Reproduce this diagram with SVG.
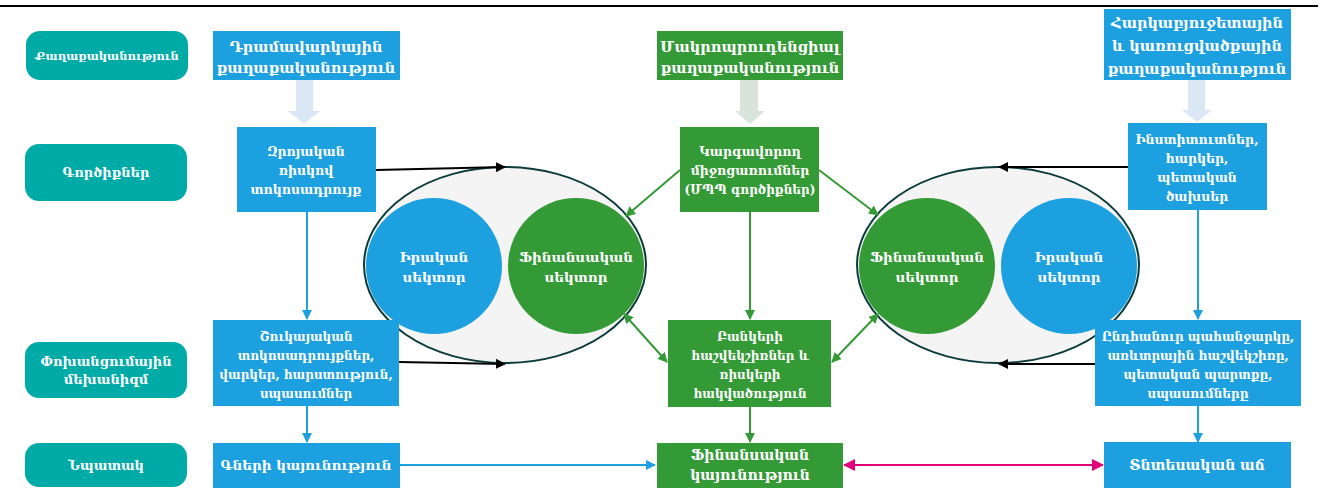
<svg xmlns="http://www.w3.org/2000/svg" width="1320" height="495" viewBox="0 0 1320 495">
<style>
.t{font-family:"DejaVu Serif","Noto Sans",serif;font-weight:bold;fill:#fff;text-anchor:middle}
.lab{fill:#00aaa6}
.blue{fill:#1da0e0}
.green{fill:#349a36}
.c{stroke-width:2;fill:none}
</style>
<defs>
<marker id="ak" markerWidth="10" markerHeight="10" refX="9" refY="5" orient="auto-start-reverse" markerUnits="userSpaceOnUse"><path d="M0,0 L10,5 L0,10 Z" fill="#000"/></marker>
<marker id="ab" markerWidth="10" markerHeight="10" refX="9" refY="5" orient="auto-start-reverse" markerUnits="userSpaceOnUse"><path d="M0,0 L10,5 L0,10 Z" fill="#1da0e0"/></marker>
<marker id="ag" markerWidth="10" markerHeight="10" refX="9" refY="5" orient="auto-start-reverse" markerUnits="userSpaceOnUse"><path d="M0,0 L10,5 L0,10 Z" fill="#349a36"/></marker>
<marker id="ap" markerWidth="12" markerHeight="12" refX="11" refY="6" orient="auto-start-reverse" markerUnits="userSpaceOnUse"><path d="M0,0 L12,6 L0,12 Z" fill="#e0007a"/></marker>
</defs>
<rect width="1320" height="495" fill="#fff"/>
<line x1="0" y1="6" x2="1318" y2="6" stroke="#000" stroke-width="2"/>

<!-- row labels -->
<g id="lab1"><rect class="lab" x="26" y="31" width="162" height="49" rx="14"/><text class="t" x="107" y="60" font-size="11.5">Քաղաքականություն</text></g>
<g id="lab2"><rect class="lab" x="25" y="144" width="162" height="57" rx="14"/><text class="t" x="106" y="177" font-size="13">Գործիքներ</text></g>
<g id="lab3"><rect class="lab" x="25" y="342" width="162" height="56" rx="14"/><text class="t" x="106" y="366" font-size="13">Փոխանցումային</text><text class="t" x="106" y="384" font-size="13">մեխանիզմ</text></g>
<g id="lab4"><rect class="lab" x="25" y="443" width="162" height="44" rx="14"/><text class="t" x="106" y="470" font-size="13">Նպատակ</text></g>

<!-- big arrows -->
<g id="bigarrows">
<path d="M296,80 H313 V111 H320 L304,124 L288,111 H296 Z" fill="#dbe7f5"/>
<path d="M740,80 H758 V111 H765 L750,124 L735,111 H740 Z" fill="#d8e3d9"/>
<path d="M1188,80 H1205 V110 H1212 L1197,122 L1182,110 H1188 Z" fill="#dbe7f5"/>
</g>

<!-- ellipses -->
<g id="ellL"><ellipse cx="505" cy="265" rx="141" ry="98" fill="#f4f4f4" stroke="#0b3b3b" stroke-width="2"/>
<circle cx="434" cy="266" r="68" class="blue"/><text class="t" x="434" y="262" font-size="13.5">Իրական</text><text class="t" x="434" y="282" font-size="13.5">սեկտոր</text>
<circle cx="576" cy="266" r="68" class="green"/><text class="t" x="576" y="262" font-size="13.5">Ֆինանսական</text><text class="t" x="576" y="282" font-size="13.5">սեկտոր</text></g>
<g id="ellR"><ellipse cx="998" cy="265" rx="141" ry="98" fill="#f4f4f4" stroke="#0b3b3b" stroke-width="2"/>
<circle cx="927" cy="266" r="68" class="green"/><text class="t" x="927" y="262" font-size="13.5">Ֆինանսական</text><text class="t" x="927" y="282" font-size="13.5">սեկտոր</text>
<circle cx="1069" cy="266" r="68" class="blue"/><text class="t" x="1069" y="262" font-size="13.5">Իրական</text><text class="t" x="1069" y="282" font-size="13.5">սեկտոր</text></g>

<!-- connectors -->
<g id="connectors">
<line class="c" x1="376" y1="170" x2="505" y2="167" stroke="#000" marker-end="url(#ak)"/>
<line class="c" x1="399" y1="362" x2="505" y2="364" stroke="#000" marker-end="url(#ak)"/>
<line class="c" x1="1128" y1="167" x2="999" y2="167" stroke="#000" marker-end="url(#ak)"/>
<line class="c" x1="1095" y1="364" x2="999" y2="364" stroke="#000" marker-end="url(#ak)"/>
<line class="c" x1="307" y1="212" x2="307" y2="319" stroke="#1da0e0" marker-end="url(#ab)"/>
<line class="c" x1="307" y1="406" x2="307" y2="442" stroke="#1da0e0" marker-end="url(#ab)"/>
<line class="c" x1="1198" y1="210" x2="1198" y2="319" stroke="#1da0e0" marker-end="url(#ab)"/>
<line class="c" x1="1198" y1="406" x2="1198" y2="442" stroke="#1da0e0" marker-end="url(#ab)"/>
<line class="c" x1="400" y1="465" x2="655" y2="465" stroke="#1da0e0" stroke-width="2.5" marker-end="url(#ab)"/>
<line class="c" x1="680" y1="170" x2="626" y2="216" stroke="#349a36" marker-end="url(#ag)"/>
<line class="c" x1="819" y1="170" x2="878" y2="215" stroke="#349a36" marker-end="url(#ag)"/>
<line class="c" x1="750" y1="212" x2="750" y2="319" stroke="#349a36" marker-end="url(#ag)"/>
<line class="c" x1="750" y1="407" x2="750" y2="442" stroke="#349a36" marker-end="url(#ag)"/>
<line class="c" x1="667" y1="362" x2="624" y2="314" stroke="#349a36" marker-start="url(#ag)" marker-end="url(#ag)"/>
<line class="c" x1="832" y1="362" x2="878" y2="314" stroke="#349a36" marker-start="url(#ag)" marker-end="url(#ag)"/>
<line class="c" x1="844" y1="465" x2="1103" y2="465" stroke="#e0007a" stroke-width="3" marker-start="url(#ap)" marker-end="url(#ap)"/>
</g>

<!-- policy boxes -->
<g id="pol1"><rect class="blue" x="213" y="31" width="187" height="49"/><text class="t" x="306" y="52" font-size="14.5">Դրամավարկային</text><text class="t" x="306" y="73" font-size="14.5">քաղաքականություն</text></g>
<g id="pol2"><rect class="green" x="657" y="31" width="186" height="49"/><text class="t" x="750" y="52" font-size="14.5">Մակրոպրուդենցիալ</text><text class="t" x="750" y="73" font-size="14.5">քաղաքականություն</text></g>
<g id="pol3"><rect class="blue" x="1104" y="9" width="187" height="71"/><text class="t" x="1197" y="28" font-size="14.5">Հարկաբյուջետային</text><text class="t" x="1197" y="51" font-size="14.5">և կառուցվածքային</text><text class="t" x="1197" y="74" font-size="14.5">քաղաքականություն</text></g>

<!-- instruments -->
<g id="ins1"><rect class="blue" x="237" y="127" width="139" height="85"/><text class="t" x="306" y="156" font-size="12.5">Զրոյական</text><text class="t" x="306" y="175" font-size="12.5">ռիսկով</text><text class="t" x="306" y="194" font-size="12.5">տոկոսադրույք</text></g>
<g id="ins2"><rect class="green" x="680" y="127" width="139" height="85"/><text class="t" x="750" y="156" font-size="12.5">Կարգավորող</text><text class="t" x="750" y="175" font-size="12.5">միջոցառումներ</text><text class="t" x="750" y="194" font-size="12">(ՄՊՊ գործիքներ)</text></g>
<g id="ins3"><rect class="blue" x="1128" y="123" width="139" height="87"/><text class="t" x="1197" y="144" font-size="12.5">Ինստիտուտներ,</text><text class="t" x="1197" y="163" font-size="12.5">հարկեր,</text><text class="t" x="1197" y="182" font-size="12.5">պետական</text><text class="t" x="1197" y="201" font-size="12.5">ծախսեր</text></g>

<!-- transmission -->
<g id="tr1"><rect class="blue" x="213" y="320" width="186" height="86"/><text class="t" x="306" y="341" font-size="12">Շուկայական</text><text class="t" x="306" y="360" font-size="12">տոկոսադրույքներ,</text><text class="t" x="306" y="379" font-size="12">վարկեր, հարստություն,</text><text class="t" x="306" y="398" font-size="12">սպասումներ</text></g>
<g id="tr2"><rect class="green" x="668" y="320" width="163" height="87"/><text class="t" x="750" y="341" font-size="12">Բանկերի</text><text class="t" x="750" y="360" font-size="12">հաշվեկշիռներ և</text><text class="t" x="750" y="379" font-size="12">ռիսկերի</text><text class="t" x="750" y="398" font-size="12">հակվածություն</text></g>
<g id="tr3"><rect class="blue" x="1095" y="320" width="206" height="86"/><text class="t" x="1198" y="341" font-size="12">Ընդհանուր պահանջարկը,</text><text class="t" x="1198" y="360" font-size="12">առևտրային հաշվեկշիռը,</text><text class="t" x="1198" y="379" font-size="12">պետական պարտքը,</text><text class="t" x="1198" y="398" font-size="12">սպասումները</text></g>

<!-- goals -->
<g id="goal1"><rect class="blue" x="213" y="443" width="187" height="45"/><text class="t" x="306" y="470" font-size="13.5">Գների կայունություն</text></g>
<g id="goal2"><rect class="green" x="657" y="443" width="186" height="45"/><text class="t" x="750" y="460" font-size="14">Ֆինանսական</text><text class="t" x="750" y="480" font-size="14">կայունություն</text></g>
<g id="goal3"><rect class="blue" x="1104" y="442" width="187" height="46"/><text class="t" x="1197" y="470" font-size="14">Տնտեսական աճ</text></g>
</svg>
